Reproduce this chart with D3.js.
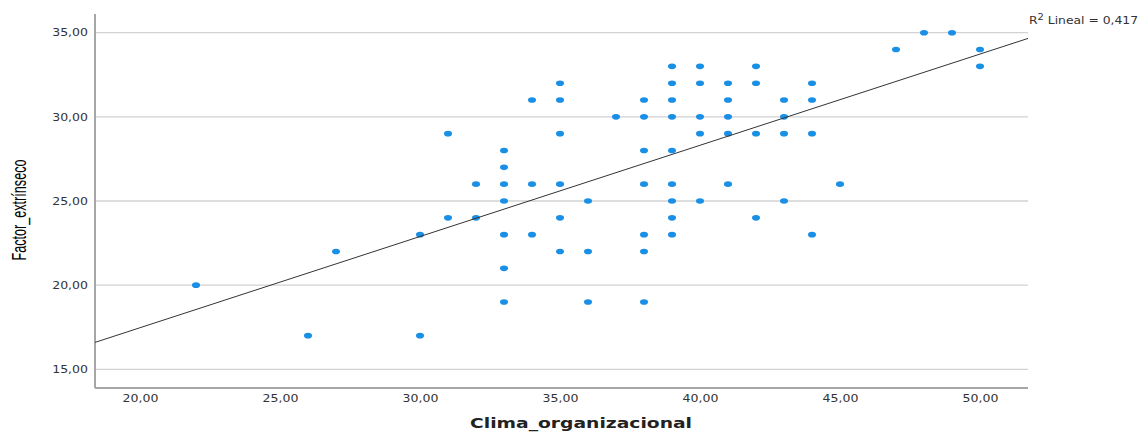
<!DOCTYPE html>
<html>
<head>
<meta charset="utf-8">
<script src="https://cdn.jsdelivr.net/npm/d3@7"></script>
<style>
  body { margin: 0; background: #fff; }
  svg { display: block; }
</style>
</head>
<body>
<svg width="1142" height="432"></svg>
<script>
// Clima_organizacional (x) vs Factor_extrinseco (y)
const climaVals = [22, 26, 27, 30, 30, 31, 31, 32, 32,
  33, 33, 33, 33, 33, 33, 33,
  34, 34, 34,
  35, 35, 35, 35, 35, 35,
  36, 36, 36,
  37,
  38, 38, 38, 38, 38, 38, 38,
  39, 39, 39, 39, 39, 39, 39, 39, 39,
  40, 40, 40, 40, 40,
  41, 41, 41, 41, 41,
  42, 42, 42, 42,
  43, 43, 43, 43,
  44, 44, 44, 44,
  45, 47, 48, 49, 50, 50];
const factorVals = [20, 17, 22, 23, 17, 29, 24, 26, 24,
  28, 27, 26, 25, 23, 21, 19,
  31, 26, 23,
  32, 31, 29, 26, 24, 22,
  25, 22, 19,
  30,
  31, 30, 28, 26, 23, 22, 19,
  33, 32, 31, 30, 28, 26, 25, 24, 23,
  33, 32, 30, 29, 25,
  32, 31, 30, 29, 26,
  33, 32, 29, 24,
  31, 30, 29, 25,
  32, 31, 29, 23,
  26, 34, 35, 35, 34, 33];

const xTicks = [20, 25, 30, 35, 40, 45, 50];
const yTicks = [15, 20, 25, 30, 35];

// linear fit
const fitIntercept = 6.63;
const fitSlope = 0.542;
const r2Value = "0,417";

const svg = d3.select('svg');
const pLeft = 95, pRight = 1028, pTop = 14, pBottom = 388;

const x = d3.scaleLinear().domain([18.393, 51.714]).range([pLeft, pRight]);
const y = d3.scaleLinear().domain([13.89, 36.11]).range([pBottom, pTop]);

const loc = d3.formatLocale({decimal: ",", thousands: ".", grouping: [3], currency: ["", ""]});
const fmt = loc.format(".2f");

//gridlines
svg.append('g')
  .selectAll('line')
  .data(yTicks)
  .enter()
  .append('line')
    .attr('x1', pLeft)
    .attr('x2', pRight)
    .attr('y1', d => y(d))
    .attr('y2', d => y(d))
    .attr('stroke', '#d2d2d2')
    .attr('stroke-width', 1.3);

//axes
const stretch = 1.25;
function styleAxis(g) {
  g.select('.domain').remove();
  g.selectAll('text')
    .attr('font-family', 'DejaVu Sans')
    .attr('font-size', 10)
    .attr('fill', '#333');
  g.selectAll('text').each(function() {
    const w = this.getComputedTextLength();
    d3.select(this).attr('textLength', w * stretch).attr('lengthAdjust', 'spacingAndGlyphs');
  });
}

svg.append('g')
  .attr('transform', `translate(${pLeft},0)`)
  .call(d3.axisLeft(y).tickValues(yTicks).tickSize(0).tickPadding(7).tickFormat(fmt))
  .call(styleAxis);

svg.append('g')
  .attr('transform', `translate(0,${pBottom})`)
  .call(d3.axisBottom(x).tickValues(xTicks).tickSize(0).tickPadding(7).tickFormat(fmt))
  .call(styleAxis);

//axis lines
svg.append('line')
  .attr('x1', pLeft).attr('x2', pLeft).attr('y1', pTop).attr('y2', pBottom)
  .attr('stroke', '#a6a6a6').attr('stroke-width', 2);
svg.append('line')
  .attr('x1', pLeft).attr('x2', pRight).attr('y1', pBottom).attr('y2', pBottom)
  .attr('stroke', '#a6a6a6').attr('stroke-width', 2);

//points
svg.append('g')
  .selectAll('ellipse')
  .data(climaVals)
  .enter()
  .append('ellipse')
    .attr('cx', d => x(d))
    .attr('cy', (d, i) => y(factorVals[i]))
    .attr('rx', 4)
    .attr('ry', 2.8)
    .attr('fill', '#1a8fe6');

//fit line
const [x0, x1] = x.domain();
svg.append('line')
  .attr('x1', x(x0)).attr('y1', y(fitIntercept + fitSlope * x0))
  .attr('x2', x(x1)).attr('y2', y(fitIntercept + fitSlope * x1))
  .attr('stroke', '#333')
  .attr('stroke-width', 1);

//labels
const r2 = svg.append('text')
  .attr('x', 1029).attr('y', 24)
  .attr('font-family', 'DejaVu Sans')
  .attr('font-size', 10)
  .attr('fill', '#333');
r2.append('tspan').text('R');
r2.append('tspan').attr('dy', -4).attr('font-size', 8).text('2');
r2.append('tspan').attr('dy', 4).text(' Lineal = ' + r2Value);
r2.attr('textLength', 109).attr('lengthAdjust', 'spacingAndGlyphs');

svg.append('text')
  .attr('x', 581).attr('y', 428)
  .attr('text-anchor', 'middle')
  .attr('font-family', 'DejaVu Sans')
  .attr('font-weight', 'bold')
  .attr('font-size', 14)
  .attr('fill', '#222')
  .attr('textLength', 222).attr('lengthAdjust', 'spacingAndGlyphs')
  .text('Clima_organizacional');

svg.append('text')
  .attr('transform', 'translate(26,210) scale(1.45,1) rotate(-90)')
  .attr('text-anchor', 'middle')
  .attr('font-family', 'Liberation Sans')
  .attr('font-size', 14)
  .attr('fill', '#000')
  .attr('textLength', 101).attr('lengthAdjust', 'spacingAndGlyphs')
  .text('Factor_extrínseco');
</script>
</body>
</html>
